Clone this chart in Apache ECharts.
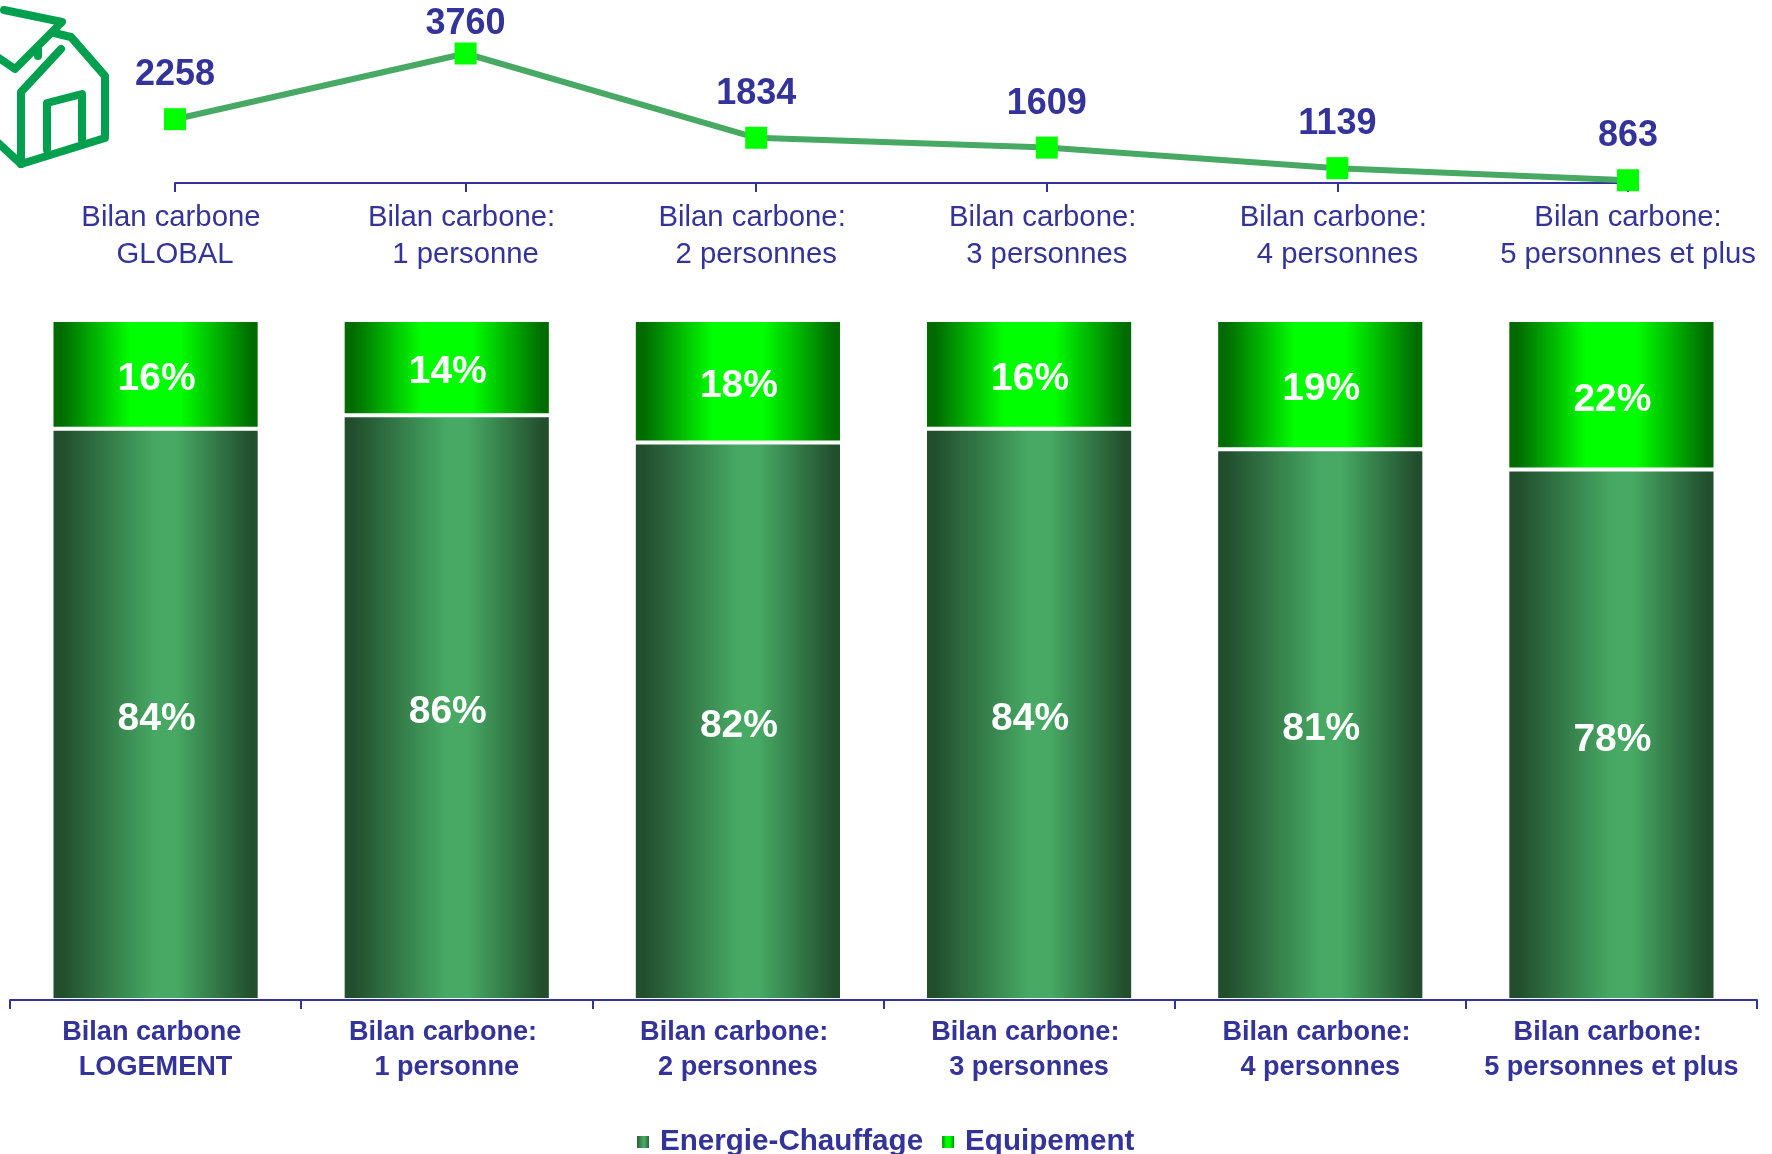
<!DOCTYPE html>
<html>
<head>
<meta charset="utf-8">
<style>html,body{margin:0;padding:0;background:#fff}#chart{width:1772px;height:1154px}</style>
<script src="https://cdn.jsdelivr.net/npm/echarts@6/dist/echarts.min.js"></script>
</head>
<body>
<div id="chart"></div>
<script>
// Carbon footprint per household size, and the share of each housing item
const lineCategories = ['Bilan carbone \nGLOBAL', 'Bilan carbone: \n1 personne', 'Bilan carbone: \n2 personnes', 'Bilan carbone: \n3 personnes', 'Bilan carbone: \n4 personnes', 'Bilan carbone:\n5 personnes et plus'];
const barCategories = ['Bilan carbone \nLOGEMENT', 'Bilan carbone: \n1 personne', 'Bilan carbone: \n2 personnes', 'Bilan carbone: \n3 personnes', 'Bilan carbone: \n4 personnes', 'Bilan carbone: \n5 personnes et plus'];
const carbonTotals = [2258, 3760, 1834, 1609, 1139, 863];
const energieChauffage = [84, 86, 82, 84, 81, 78];
const equipement = [16, 14, 18, 16, 19, 22];

const FONT = '"Liberation Sans", Arial, sans-serif';
const INK = '#333399';
const HOUSE = '#00A04F';

const sideGradient = (edge, mid, from, to) => new echarts.graphic.LinearGradient(0, 0, 1, 0, [
  { offset: 0, color: edge }, { offset: 0.05, color: edge }, { offset: from, color: mid },
  { offset: to, color: mid }, { offset: 0.96, color: edge }, { offset: 1, color: edge }
]);

// House pictogram beside the line chart
const housePaths = [
  [[21, 164], [105, 138], [105, 76], [71, 37], [54, 33]],
  [[21, 164], [21, 92], [61, 49]],
  [[4, 10], [62, 22], [15, 69], [-4, 56]],
  [[-4, 141], [21, 164]],
  [[47, 150], [47, 103], [82, 94], [82, 140]],
  [[38, 49], [38, 56]]
];

const percentLabel = {
  show: true, position: 'inside', offset: [1, 5], formatter: '{c}%',
  color: '#fff', fontFamily: FONT, fontWeight: 'bold', fontSize: 39
};

const chart = echarts.init(document.getElementById('chart'), null, { renderer: 'canvas' });
chart.setOption({
  animation: false,
  backgroundColor: '#fff',
  textStyle: { fontFamily: FONT },
  graphic: housePaths.map(points => ({
    type: 'polyline',
    shape: { points },
    style: { stroke: HOUSE, lineWidth: 8, fill: 'none', lineJoin: 'round', lineCap: 'round' }
  })),
  legend: {
    data: ['Energie-Chauffage', 'Equipement'],
    left: 630, top: 1122,
    itemWidth: 14, itemHeight: 14, itemGap: 17,
    icon: 'rect',
    textStyle: { color: INK, fontFamily: FONT, fontWeight: 'bold', fontSize: 29.6, padding: [0, 0, 0, 5] }
  },
  grid: [
    { left: 175, right: 144, top: 43, height: 140 },
    { left: 10, right: 15, top: 320, height: 680 }
  ],
  xAxis: [
    {
      type: 'category', gridIndex: 0, data: lineCategories, boundaryGap: false,
      axisLine: { lineStyle: { color: INK, width: 2 } },
      axisTick: { show: true, length: 9, lineStyle: { color: INK, width: 2 } },
      axisLabel: { color: INK, fontFamily: FONT, fontSize: 29.3, lineHeight: 37, margin: 16, interval: 0, hideOverlap: false }
    },
    {
      type: 'category', gridIndex: 1, data: barCategories, z: 4,
      axisLine: { lineStyle: { color: INK, width: 2 } },
      axisTick: { show: true, length: 9, lineStyle: { color: INK, width: 2 } },
      axisLabel: { color: INK, fontFamily: FONT, fontSize: 27.1, fontWeight: 'bold', lineHeight: 35, margin: 15, interval: 0 }
    }
  ],
  yAxis: [
    { type: 'value', gridIndex: 0, min: 800, max: 4000, show: false },
    { type: 'value', gridIndex: 1, min: 0, max: 100, show: false }
  ],
  series: [
    {
      name: 'Energie-Chauffage', type: 'bar', xAxisIndex: 1, yAxisIndex: 1, stack: 'part',
      data: energieChauffage, barWidth: '71.5%',
      itemStyle: { color: sideGradient('#224E2E', '#47A964', 0.5, 0.6), borderColor: '#fff', borderWidth: 2 },
      label: percentLabel
    },
    {
      name: 'Equipement', type: 'bar', xAxisIndex: 1, yAxisIndex: 1, stack: 'part',
      data: equipement,
      itemStyle: { color: sideGradient('#006C00', '#00FF00', 0.38, 0.62), borderColor: '#fff', borderWidth: 2 },
      label: percentLabel
    },
    {
      name: 'Bilan carbone', type: 'line', xAxisIndex: 0, yAxisIndex: 0,
      // The tallest point keeps its label closer, so it stays inside the page
      data: carbonTotals.map(value => value === Math.max(...carbonTotals)
        ? { value, label: { distance: 0 } }
        : value),
      lineStyle: { color: '#47A964', width: 6 },
      symbol: 'rect', symbolSize: 22,
      itemStyle: { color: '#00FF00' },
      z: 5,
      label: { show: true, position: 'top', distance: 15, color: INK, fontFamily: FONT, fontWeight: 'bold', fontSize: 36 }
    }
  ]
});
</script>
</body>
</html>
